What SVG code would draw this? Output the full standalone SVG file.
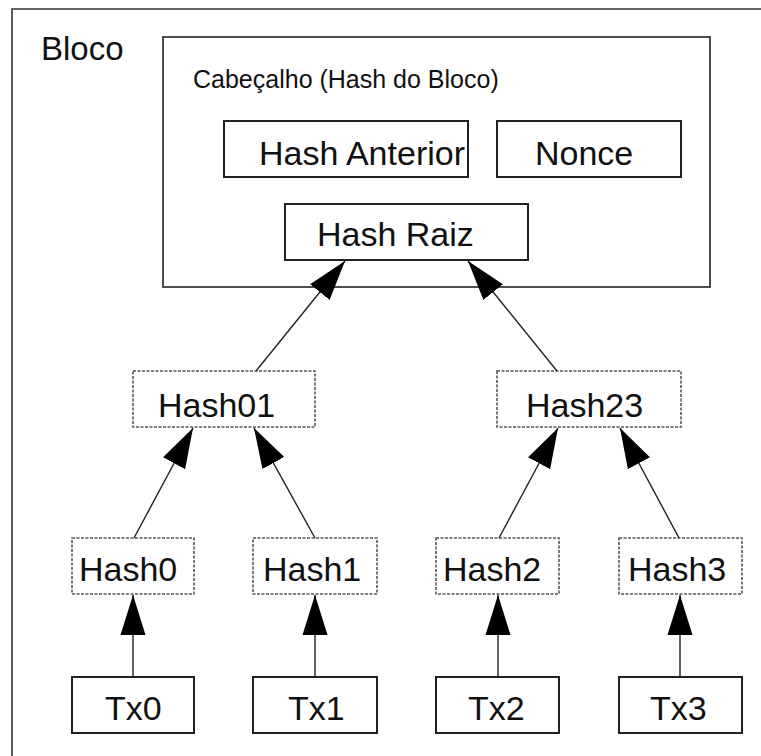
<svg xmlns="http://www.w3.org/2000/svg" width="761" height="756" viewBox="0 0 761 756">
  <style>
    .frame { fill: none; stroke: #333; stroke-width: 1.6; }
    .box { fill: #fff; stroke: #222; stroke-width: 2; }
    .dbox { fill: #fff; stroke: #555; stroke-width: 1.6; stroke-dasharray: 3 1.5; }
    .lbl { font-family: "Liberation Sans", Arial, sans-serif; font-size: 34px; fill: #111; }
    .edge { stroke: #222; stroke-width: 1.4; fill: none; marker-end: url(#head); }
  </style>
  <defs>
    <marker id="head" markerUnits="userSpaceOnUse" markerWidth="40" markerHeight="26" refX="40" refY="13" orient="auto">
      <path d="M0,0.5 L40,13 L0,25.5 Z" fill="#000"/>
    </marker>
  </defs>

  <rect width="761" height="756" fill="#fff"/>

  <!-- outer block frame (runs off the right and bottom edges) -->
  <g id="bloco">
    <path class="frame" d="M12,756 V9 H761"/>
    <text class="lbl" x="41" y="60" style="font-size:33px">Bloco</text>
  </g>

  <!-- block header -->
  <g id="cabecalho">
    <rect class="frame" x="163" y="37" width="547" height="250" style="stroke:#222"/>
    <text class="lbl" x="193" y="88" style="font-size:25px">Cabeçalho (Hash do Bloco)</text>
  </g>

  <g id="hash-anterior">
    <rect class="box" x="224" y="121" width="244" height="56"/>
    <text class="lbl" x="259" y="165">Hash Anterior</text>
  </g>

  <g id="nonce">
    <rect class="box" x="497" y="121" width="184" height="56"/>
    <text class="lbl" x="535" y="165">Nonce</text>
  </g>

  <g id="hash-raiz">
    <rect class="box" x="285" y="204" width="243" height="56"/>
    <text class="lbl" x="317" y="246">Hash Raiz</text>
  </g>

  <!-- intermediate hashes -->
  <g id="hash01">
    <rect class="dbox" x="133" y="371" width="182" height="56"/>
    <text class="lbl" x="158" y="417">Hash01</text>
  </g>
  <g id="hash23">
    <rect class="dbox" x="497" y="371" width="184" height="56"/>
    <text class="lbl" x="526" y="417">Hash23</text>
  </g>

  <!-- leaf hashes -->
  <g id="hash0">
    <rect class="dbox" x="72" y="538" width="122" height="56"/>
    <text class="lbl" x="79" y="581">Hash0</text>
  </g>
  <g id="hash1">
    <rect class="dbox" x="253" y="538" width="124" height="56"/>
    <text class="lbl" x="263" y="581">Hash1</text>
  </g>
  <g id="hash2">
    <rect class="dbox" x="436" y="538" width="123" height="56"/>
    <text class="lbl" x="443" y="581">Hash2</text>
  </g>
  <g id="hash3">
    <rect class="dbox" x="619" y="538" width="123" height="56"/>
    <text class="lbl" x="628" y="581">Hash3</text>
  </g>

  <!-- transactions -->
  <g id="tx0">
    <rect class="box" x="72" y="677" width="122" height="56"/>
    <text class="lbl" x="105" y="720">Tx0</text>
  </g>
  <g id="tx1">
    <rect class="box" x="253" y="677" width="124" height="56"/>
    <text class="lbl" x="288" y="720">Tx1</text>
  </g>
  <g id="tx2">
    <rect class="box" x="436" y="677" width="123" height="56"/>
    <text class="lbl" x="468" y="720">Tx2</text>
  </g>
  <g id="tx3">
    <rect class="box" x="619" y="677" width="123" height="56"/>
    <text class="lbl" x="650" y="720">Tx3</text>
  </g>

  <!-- connectors: child hash points up to its parent -->
  <g id="connectors">
    <line class="edge" x1="256" y1="371" x2="345" y2="261"/>
    <line class="edge" x1="557" y1="371" x2="468" y2="261"/>
    <line class="edge" x1="134" y1="538" x2="193" y2="428"/>
    <line class="edge" x1="315" y1="538" x2="254" y2="428"/>
    <line class="edge" x1="499" y1="538" x2="558" y2="428"/>
    <line class="edge" x1="679" y1="538" x2="620" y2="428"/>
    <line class="edge" x1="133" y1="677" x2="133" y2="595"/>
    <line class="edge" x1="315" y1="677" x2="315" y2="595"/>
    <line class="edge" x1="498" y1="677" x2="498" y2="595"/>
    <line class="edge" x1="680" y1="677" x2="680" y2="595"/>
  </g>
</svg>
